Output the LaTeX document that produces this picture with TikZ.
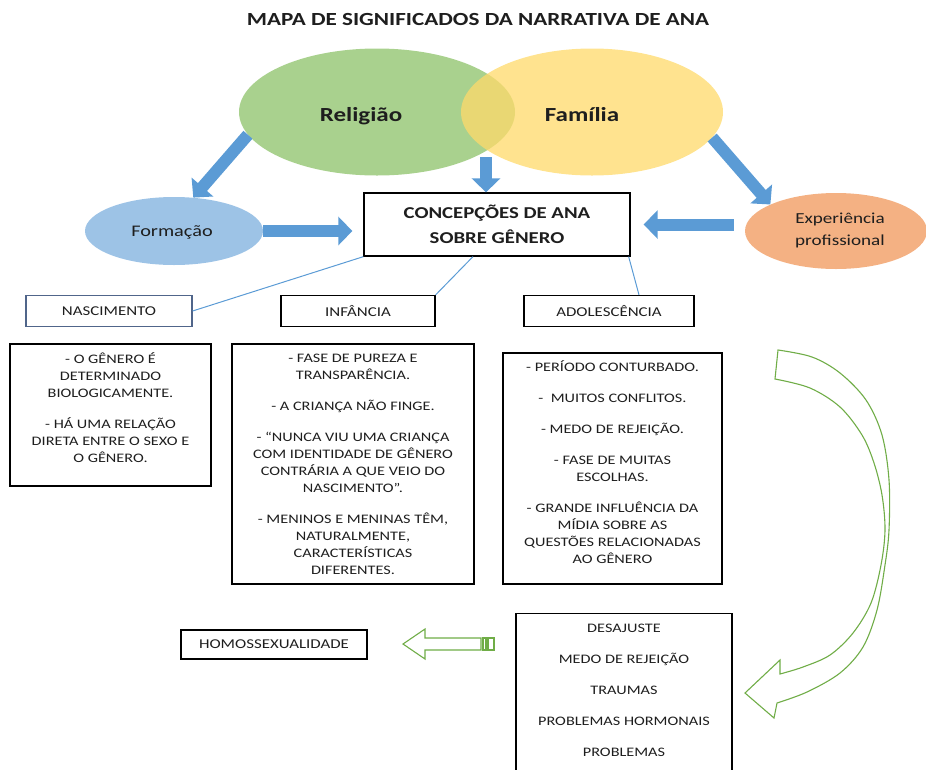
\documentclass[tikz,border=0pt]{standalone}
\usepackage{fontspec}
\setmainfont{Carlito}[FakeStretch=1.25]
\usetikzlibrary{shapes.geometric,arrows.meta,calc}
\definecolor{relg}{HTML}{A9D18E}
\definecolor{famy}{HTML}{FFDA6A}
\definecolor{formb}{HTML}{9DC3E6}
\definecolor{expo}{HTML}{F4B183}
\definecolor{arrb}{HTML}{5B9BD5}
\definecolor{arrg}{HTML}{70AD47}
\definecolor{txt}{HTML}{1E1E1E}
\definecolor{nasb}{HTML}{50658A}
\newcommand\firststrut{\rule{0pt}{12pt}}
\begin{document}
\begin{tikzpicture}[x=1pt,y=-1pt,
  every node/.style={text=txt},
  bluearrow/.style={draw=arrb, line width=12pt, -{Triangle[length=14pt,width=28pt]}},
  thinline/.style={draw=arrb, line width=1pt},
  labelbox/.style={draw=black, line width=1.2pt, minimum height=31pt, inner sep=0pt, font=\fontsize{13.5}{15}\selectfont},
  textbox/.style={draw=black, line width=1.3pt, inner sep=0pt},
  bodytext/.style={align=center, inner sep=0pt, anchor=north, font=\fontsize{13}{17}\selectfont},
  blob/.style={ellipse, inner sep=0pt},
  greenarrow/.style={draw=arrg, line width=1.1pt, fill=white, line join=miter}]
\useasboundingbox (0,0) rectangle (926,769);
\clip (0,0) rectangle (926,769);

% title
\node[font=\bfseries\fontsize{18.5}{20}\selectfont, anchor=base] (title) at (478,25.7) {MAPA DE SIGNIFICADOS DA NARRATIVA DE ANA};

% ellipses
\node[blob, fill=relg, minimum width=276pt, minimum height=127pt] (rel) at (377,112) {};
\node[blob, fill=famy, fill opacity=0.75, minimum width=262pt, minimum height=127pt] (fam) at (592,112) {};
\node[font=\bfseries\fontsize{20}{24}\selectfont, anchor=base] (relt) at (361,121) {Religião};
\node[font=\bfseries\fontsize{20}{24}\selectfont, anchor=base] (famt) at (582,121) {Família};

\node[blob, fill=formb, minimum width=178pt, minimum height=68pt] (form) at (174,231) {};
\node[font=\fontsize{16.2}{18}\selectfont, anchor=base] (formt) at (172,236) {Formação};
\node[blob, fill=expo, minimum width=182pt, minimum height=76pt] (exp) at (836,231) {};
\node[font=\fontsize{15.3}{22}\selectfont, align=center] (expt) at (840,230) {Experiência\\profissional};

% central box
\node[textbox, minimum width=266pt, minimum height=63pt, align=center,
      font=\bfseries\fontsize{16.6}{25}\selectfont] (conc) at (497,224.5) {CONCEPÇÕES DE ANA\\SOBRE GÊNERO};

% blue arrows
\coordinate (lens) at (486,157);
\draw[bluearrow] (rel.190) -- (form.60);
\draw[bluearrow] (lens) -- (lens |- conc.north);
\draw[bluearrow] (fam.-12) -- (exp.158);
\draw[bluearrow, shorten >=11pt] (form.east) -- (form.east -| conc.west);
\draw[bluearrow, shorten <=11pt, shorten >=13pt] (exp.west |- conc.east) -- (conc.east);

% label boxes
\node[labelbox, draw=nasb, minimum width=166pt] (nas) at (109,311) {NASCIMENTO};
\node[labelbox, minimum width=154pt] (inf) at (358,311) {INFÂNCIA};
\node[labelbox, minimum width=170pt] (adol) at (609,311) {ADOLESCÊNCIA};

\draw[thinline] (conc.south west) -- (nas.east);
\draw[thinline] ($(conc.south west)!0.41!(conc.south east)$) -- (inf.north east);
\draw[thinline] ($(conc.south east)+(-2,0)$) -- ($(adol.north)+(30,0)$);

% content boxes
\node[textbox, minimum width=201pt, minimum height=142pt] (nasbox) at (110.5,415) {};
\node[bodytext] (nastext) at ($(nasbox.north)+(0,7.5)$) {\firststrut- O GÊNERO É\\DETERMINADO\\BIOLOGICAMENTE.\\[14pt]- HÁ UMA RELAÇÃO\\DIRETA ENTRE O SEXO E\\O GÊNERO.};

\node[textbox, minimum width=242pt, minimum height=240pt] (infbox) at (353,464) {};
\node[bodytext] (inftext) at ($(infbox.north)+(0,7)$) {\firststrut- FASE DE PUREZA E\\TRANSPARÊNCIA.\\[14pt]- A CRIANÇA NÃO FINGE.\\[14pt]- “NUNCA VIU UMA CRIANÇA\\COM IDENTIDADE DE GÊNERO\\CONTRÁRIA A QUE VEIO DO\\NASCIMENTO”.\\[14pt]- MENINOS E MENINAS TÊM,\\NATURALMENTE,\\CARACTERÍSTICAS\\DIFERENTES.};

\node[textbox, minimum width=219pt, minimum height=231pt] (adolbox) at (612.5,468.5) {};
\node[bodytext] (adoltext) at ($(adolbox.north)+(0,6.7)$) {\firststrut- PERÍODO CONTURBADO.\\[14pt]-\ \ MUITOS CONFLITOS.\\[14pt]- MEDO DE REJEIÇÃO.\\[14pt]- FASE DE MUITAS\\ESCOLHAS.\\[14pt]- GRANDE INFLUÊNCIA DA\\MÍDIA SOBRE AS\\QUESTÕES RELACIONADAS\\AO GÊNERO};

% bottom box
\node[textbox, minimum width=216pt, minimum height=187pt, anchor=north] (causes) at (624,613) {};
\node[bodytext, font=\fontsize{13}{17}\selectfont] (causestext) at ($(causes.north)+(0,7)$) {\firststrut DESAJUSTE\\[14pt]MEDO DE REJEIÇÃO\\[14pt]TRAUMAS\\[14pt]PROBLEMAS HORMONAIS\\[14pt]PROBLEMAS};

\node[labelbox, minimum width=186pt, minimum height=29pt] (homo) at (274,644.5) {HOMOSSEXUALIDADE};

% green striped arrow (left)
\draw[greenarrow] (403,644) -- (425,629) -- (425,638) -- (481,638) -- (481,650) -- (425,650) -- (425,659) -- cycle;
\draw[greenarrow] (483,638) rectangle (486,650);
\draw[greenarrow] (488,638) rectangle (494,650);

% green curved arrow
\draw[greenarrow] plot[smooth, tension=0.55] coordinates {(778,350) (812,357) (840,373) (866,400) (882,435) (889,480) (889,530) (885,565) (877,610) (863,647) (840,673) (807,692) (777,703)}
  -- (774,718) -- (745,693) -- (780,660)
  -- plot[smooth, tension=0.55] coordinates {(780,674) (803,667) (830,655) (853,633) (871,603) (881,565) (885,530) (882,495) (874,463) (862,435) (840,407) (810,388) (775,379)}
  -- cycle;
\end{tikzpicture}
\end{document}
